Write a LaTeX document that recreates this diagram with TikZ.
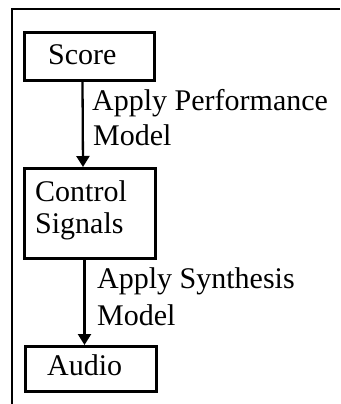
\documentclass[tikz,border=0pt]{standalone}
\usepackage{fontspec}
\setmainfont{Liberation Serif}
\usetikzlibrary{arrows.meta}
\tikzset{
  box/.style={draw, line width=3pt, inner sep=0pt, anchor=north west},
  lbl/.style={inner sep=0pt, font=\fontsize{30pt}{35pt}\selectfont, anchor=base west},
  arr/.style={line width=2.3pt, -{Triangle[width=13pt,length=11pt]}},
  frame/.style={line width=2.3pt}
}
\begin{document}
\begin{tikzpicture}
\useasboundingbox (0,0) rectangle (340pt,-404pt);
% frame
\coordinate (ftr) at (340pt,-9pt);
\coordinate (ftl) at (12pt,-9pt);
\coordinate (fbl) at (12pt,-404pt);
\draw[frame] (ftr) -- (ftl) -- (fbl);
% boxes
\node[box, minimum width=130pt, minimum height=48pt] (score) at (23pt,-31pt) {};
\node[box, minimum width=131pt, minimum height=90pt] (ctrl) at (23pt,-167pt) {};
\node[box, minimum width=131pt, minimum height=45pt] (audio) at (24pt,-345pt) {};
% box texts
\node[lbl] (tscore) at (48pt,-65pt) {Score};
\node[lbl] (tctrl1) at (35pt,-201pt) {Control};
\node[lbl] (tctrl2) at (35pt,-233pt) {Signals};
\node[lbl] (taudio) at (47pt,-375pt) {Audio};
% connectors
\draw[arr] ([xshift=-7pt]score.south) -- ([xshift=-7pt]ctrl.north);
\draw[arr] ([xshift=-5.5pt]ctrl.south) -- ([xshift=-5.5pt]ctrl.south |- audio.north);
% connector labels
\node[lbl] (l1a) at (92pt,-110pt) {Apply Performance};
\node[lbl] (l1b) at (93pt,-145pt) {Model};
\node[lbl] (l2a) at (97pt,-288pt) {Apply Synthesis};
\node[lbl] (l2b) at (97pt,-325pt) {Model};
\end{tikzpicture}
\end{document}
